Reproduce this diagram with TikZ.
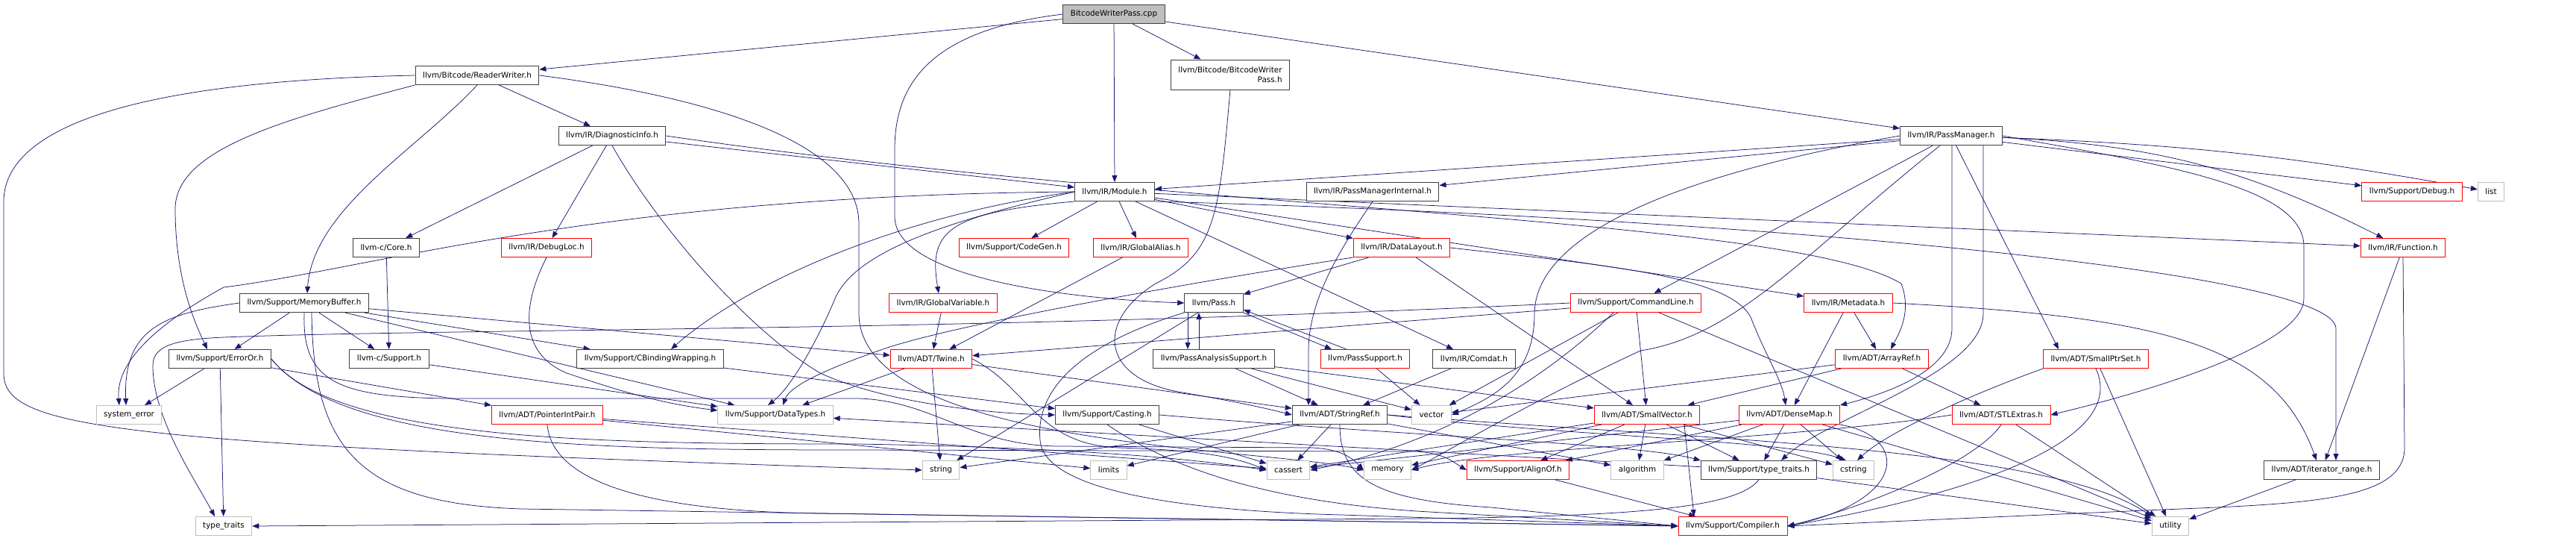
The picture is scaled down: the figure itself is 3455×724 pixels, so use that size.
\documentclass[tikz,border=0pt]{standalone}
\usepackage{fontspec}
\setmainfont{DejaVu Sans}
\usetikzlibrary{arrows.meta,backgrounds}

\definecolor{inclblue}{HTML}{191970}
\definecolor{sysgray}{HTML}{BFBFBF}

\tikzstyle{hdr} = [draw=black!75, line width=1pt, fill=white, minimum height=25pt, inner xsep=10pt, inner ysep=2pt, font=\fontsize{10.4}{13}\selectfont]
\tikzstyle{hdrcut} = [hdr, draw=red]
\tikzstyle{syshdr} = [hdr, draw=sysgray]
\tikzstyle{srcfile} = [hdr, fill=sysgray]
\tikzstyle{incl} = [draw=inclblue, line width=0.75pt, -{Triangle[length=9pt,width=7pt]}]

\begin{document}
\begin{tikzpicture}[x=1pt, y=-1pt]
\useasboundingbox (0,0) rectangle (3455,724);

% rows of the include graph
\node[srcfile] (cpp) at (1494,19) {BitcodeWriterPass.cpp};
\node[hdr] (rw) at (640,101) {llvm/Bitcode/ReaderWriter.h};
\node[hdr, align=right, minimum height=40pt] (bwp) at (1650,100) {llvm/Bitcode/BitcodeWriter\\Pass.h};
\node[hdr] (diag) at (821,182) {llvm/IR/DiagnosticInfo.h};
\node[hdr] (pm) at (2617,182) {llvm/IR/PassManager.h};
\node[hdr] (module) at (1495,257) {llvm/IR/Module.h};
\node[hdr] (pmi) at (1841,257) {llvm/IR/PassManagerInternal.h};
\node[hdrcut] (debug) at (3235,257) {llvm/Support/Debug.h};
\node[syshdr] (list) at (3341,257) {list};
\node[hdr] (core) at (518,332) {llvm-c/Core.h};
\node[hdrcut] (debugloc) at (733,332) {llvm/IR/DebugLoc.h};
\node[hdrcut] (codegen) at (1360,332) {llvm/Support/CodeGen.h};
\node[hdrcut] (galias) at (1530,332) {llvm/IR/GlobalAlias.h};
\node[hdrcut] (dl) at (1880,332) {llvm/IR/DataLayout.h};
\node[hdrcut] (func) at (3223,332) {llvm/IR/Function.h};
\node[hdr] (membuf) at (408,406) {llvm/Support/MemoryBuffer.h};
\node[hdrcut] (gvar) at (1265,406) {llvm/IR/GlobalVariable.h};
\node[hdr] (pass) at (1628,406) {llvm/Pass.h};
\node[hdrcut] (cl) at (2194,406) {llvm/Support/CommandLine.h};
\node[hdrcut] (meta) at (2479,406) {llvm/IR/Metadata.h};
\node[hdr] (erroror) at (295,481) {llvm/Support/ErrorOr.h};
\node[hdr] (csupport) at (522,481) {llvm-c/Support.h};
\node[hdr] (cbind) at (872,481) {llvm/Support/CBindingWrapping.h};
\node[hdrcut] (twine) at (1249,481) {llvm/ADT/Twine.h};
\node[hdr] (pas) at (1628,481) {llvm/PassAnalysisSupport.h};
\node[hdrcut] (passsup) at (1831,481) {llvm/PassSupport.h};
\node[hdr] (comdat) at (1977,481) {llvm/IR/Comdat.h};
\node[hdrcut] (arrayref) at (2524,481) {llvm/ADT/ArrayRef.h};
\node[hdrcut] (smallptr) at (2811,481) {llvm/ADT/SmallPtrSet.h};
\node[syshdr] (syserr) at (173,556) {system\_error};
\node[hdrcut] (pip) at (734,556) {llvm/ADT/PointerIntPair.h};
\node[syshdr] (datatypes) at (1040,556) {llvm/Support/DataTypes.h};
\node[hdr] (casting) at (1485,556) {llvm/Support/Casting.h};
\node[hdr] (stringref) at (1797,556) {llvm/ADT/StringRef.h};
\node[syshdr] (vector) at (1920,556) {vector};
\node[hdrcut] (smallvec) at (2209,556) {llvm/ADT/SmallVector.h};
\node[hdrcut] (densemap) at (2400,556) {llvm/ADT/DenseMap.h};
\node[hdrcut] (stlext) at (2684,556) {llvm/ADT/STLExtras.h};
\node[syshdr] (string) at (1262,630) {string};
\node[syshdr] (limits) at (1487,630) {limits};
\node[syshdr] (cassert) at (1728,630) {cassert};
\node[syshdr] (memory) at (1861,630) {memory};
\node[hdrcut] (alignof) at (2036,630) {llvm/Support/AlignOf.h};
\node[syshdr] (algorithm) at (2196,630) {algorithm};
\node[hdr] (tt) at (2359,630) {llvm/Support/type\_traits.h};
\node[syshdr] (cstring) at (2486,630) {cstring};
\node[hdr] (iterrange) at (3114,630) {llvm/ADT/iterator\_range.h};
\node[syshdr] (stdtt) at (300,705) {type\_traits};
\node[hdrcut] (compiler) at (2324,705) {llvm/Support/Compiler.h};
\node[syshdr] (utility) at (2911,705) {utility};

\begin{scope}[on background layer, every edge/.style=incl]
\fill[white] (0,0) rectangle (3455,724);
\path (cpp) edge (rw) edge (bwp) edge (module) edge (pm);
\path (rw) edge (diag);
\path (diag) edge (core) edge (debugloc) edge (module);
\path (pm) edge (module) edge (pmi) edge (debug) edge[bend left=4] (list) edge[bend left=12] (func)
  edge (cl) edge ([xshift=-50pt]smallptr.north);
\path (module) edge (codegen) edge (galias) edge (dl) edge (comdat) edge (func) edge (meta);
\path (core) edge (csupport);
\path (csupport) edge (datatypes);
\path (membuf) edge (erroror) edge (csupport) edge (twine) edge (cbind) edge (datatypes);
\path (galias) edge (twine);
\path (gvar) edge (twine);
\path (dl) edge (pass) edge (smallvec);
\path (pass) edge (string);
\path (pas) edge (vector) edge (stringref) edge (smallvec);
\path (passsup) edge (vector);
\path (cl) edge (twine) edge (smallvec) edge (vector) edge (utility);
\path (meta) edge (arrayref) edge (densemap);
\path (func) edge (iterrange);
\path (arrayref) edge (smallvec) edge (vector) edge (stlext);
\path (smallptr) edge (utility);
\path (erroror) edge (syserr) edge (stdtt) edge (pip);
\path (cbind) edge (casting);
\path (twine) edge (stringref) edge (datatypes) edge (string);
\path (pip) edge (cassert) edge (limits);
\path (comdat) edge (stringref);
\path (casting) edge (cassert);
\path (stringref) edge (cassert) edge (string) edge (algorithm) edge (limits);
\path (smallvec) edge (alignof) edge (tt) edge (algorithm) edge (cassert) edge (cstring) edge (memory);
\path (densemap) edge (alignof) edge (tt) edge (algorithm) edge (cassert) edge (cstring) edge (utility);
\path (stlext) edge (utility);
\path (alignof) edge (compiler);
\path (tt) edge (datatypes) edge (utility);
\path (iterrange) edge (utility);

% includes routed round other boxes
\draw[incl] (cpp.west) .. controls (1250,40) and (1200,110) .. (1200,200) -- (1200,290)
  .. controls (1200,370) and (1420,400) .. (pass.west);
\draw[incl] (rw.south) .. controls (560,200) and (420,280) .. ([xshift=4pt]membuf.north);
\draw[incl] (rw.west) .. controls (120,110) and (5,190) .. (5,270) -- (5,500)
  .. controls (5,575) and (150,595) .. (string.west);
\draw[incl] (rw.south west) .. controls (380,160) and (235,200) .. (235,280)
  .. controls (235,380) and (265,440) .. ([xshift=-17pt]erroror.north);
\draw[incl] (rw.east) .. controls (950,130) and (1152,190) .. (1152,300) -- (1152,420)
  .. controls (1152,600) and (1700,600) .. (memory.west);
\draw[incl] (bwp.south) .. controls (1635,290) and (1630,340) .. (1550,380)
  .. controls (1470,430) and (1475,505) .. (1580,525) .. controls (1640,535) and (1690,545) .. (stringref.west);
\draw[incl] (diag.east) .. controls (1600,285) and (2400,290) .. (2550,380)
  .. controls (2565,420) and (2545,450) .. ([xshift=12pt]arrayref.north);
\draw[incl] (diag.south) .. controls (880,300) and (1000,440) .. (1100,500)
  .. controls (1200,545) and (1350,555) .. (casting.west);
\draw[incl] (debugloc.south) .. controls (705,400) and (690,470) .. (760,500)
  .. controls (820,520) and (880,540) .. ([yshift=6pt]datatypes.west);
\draw[incl] (pm.east) .. controls (2900,220) and (3090,250) .. (3090,330) -- (3090,400)
  .. controls (3090,460) and (2900,520) .. (stlext.east);
\draw[incl] ([xshift=1pt]pm.south) -- (2618,440) .. controls (2618,500) and (2520,530) .. (densemap.north east);
\draw[incl] ([xshift=43pt]pm.south) -- (2660,420) .. controls (2660,500) and (2450,560) .. ([xshift=30pt]tt.north);
\draw[incl] (pm.west) .. controls (2300,225) and (2060,300) .. (2058,420)
  .. controls (2058,500) and (2010,530) .. (vector.east);
\draw[incl] ([xshift=-15pt]pm.south) .. controls (2420,340) and (2330,450) .. (2200,470)
  .. controls (2050,540) and (1950,600) .. (memory.east);
\draw[incl] (module.south west) .. controls (1270,285) and (1245,310) .. ([xshift=-6pt]gvar.north);
\draw[incl] (module.west) .. controls (1300,290) and (1150,330) .. (1120,400)
  .. controls (1095,460) and (1060,520) .. ([xshift=-10pt]datatypes.north);
\draw[incl] (module.west) .. controls (1200,290) and (1000,380) .. ([xshift=28pt]cbind.north);
\draw[incl] (module.west) .. controls (800,262) and (500,360) .. (300,385)
  .. controls (200,440) and (155,490) .. ([xshift=-13pt]syserr.north);
\draw[incl] (module.south east) .. controls (2300,290) and (3130,360) .. (3133,440) -- ([xshift=19pt]iterrange.north);
\draw[incl] (pmi.south) .. controls (1800,330) and (1755,400) .. (1755,470) -- ([xshift=-42pt]stringref.north);
\draw[incl] (meta.east) .. controls (2900,425) and (3050,460) .. ([xshift=-7pt]iterrange.north);
\draw[incl] (func.south) -- (3225,600) .. controls (3225,670) and (3100,675) .. (2900,683) -- (compiler.east);
\draw[incl] (membuf.west) .. controls (220,420) and (165,440) .. ([xshift=-4pt]syserr.north);
\draw[incl] (membuf.south) .. controls (405,510) and (450,532) .. (600,534) -- (1150,534)
  .. controls (1250,536) and (1300,597) .. (1420,598) -- (1760,600) .. controls (1800,602) and (1815,615) .. (memory.west);
\draw[incl] ([xshift=10pt]membuf.south) .. controls (420,600) and (480,675) .. (700,682) -- (compiler.west);
\draw[incl] (dl.south west) .. controls (1650,370) and (1300,430) .. (1190,466)
  .. controls (1120,490) and (1060,515) .. ([xshift=10pt]datatypes.north);
\draw[incl] (dl.east) .. controls (2150,355) and (2330,370) .. (2350,430)
  .. controls (2370,480) and (2390,510) .. ([xshift=-5pt]densemap.north);
\draw[incl] (pass.south west) .. controls (1420,470) and (1390,540) .. (1395,590)
  .. controls (1400,660) and (1600,685) .. (1800,690) -- (compiler.west);
\draw[incl] (cl.west) .. controls (1300,445) and (600,440) .. (300,452)
  .. controls (230,455) and (205,465) .. (205,490) .. controls (205,560) and (260,640) .. ([xshift=-12pt]stdtt.north);
\draw[incl] ([xshift=-30pt]cl.south) .. controls (2080,500) and (1950,590) .. (cassert.east);
\draw[incl] (smallptr.south) .. controls (2860,600) and (2600,670) .. (compiler.east);
\draw[incl] (smallptr.south west) .. controls (2640,530) and (2530,580) .. ([xshift=5pt]cstring.north);
\draw[incl] (erroror.east) .. controls (450,590) and (800,595) .. (1150,595)
  .. controls (1450,600) and (1600,615) .. (cassert.west);
\draw[incl] (erroror.east) .. controls (460,598) and (800,603) .. (1150,603) -- (1900,605)
  .. controls (1940,608) and (1950,620) .. (alignof.west);
\draw[incl] (twine.east) .. controls (1380,520) and (1390,595) .. (1500,600)
  .. controls (1600,603) and (1650,610) .. (cassert.west);
\draw[incl] (pip.south) .. controls (740,640) and (850,685) .. (1100,688) -- (compiler.west);
\draw[incl] (casting.east) .. controls (1900,585) and (2200,595) .. (tt.north west);
\draw[incl] (casting.south) .. controls (1560,620) and (1680,670) .. (1900,685) -- (compiler.west);
\draw[incl] (stringref.east) .. controls (2100,585) and (2400,590) .. ([xshift=-10pt]cstring.north);
\draw[incl] (stringref.south) .. controls (1797,640) and (1840,670) .. (2000,680) -- (compiler.west);
\draw[incl] (stringref.east) .. controls (2300,590) and (2750,600) .. (utility.north west);
\draw[incl] ([xshift=50pt]smallvec.south) -- ([xshift=-52pt]compiler.north);
\draw[incl] (densemap.south east) .. controls (2560,585) and (2560,670) .. (compiler.east);
\draw[incl] (stlext.south) .. controls (2650,620) and (2500,680) .. (compiler.east);
\draw[incl] (stlext.west) .. controls (2400,590) and (2000,600) .. (memory.east);
\draw[incl] (tt.south) .. controls (2330,680) and (2200,692) .. (1900,695) -- (stdtt.east);
\draw[incl] ([xshift=-35pt]pass.south) -- ([xshift=-35pt]pas.north);
\draw[incl] ([xshift=-20pt]pas.north) -- ([xshift=-20pt]pass.south);
\draw[incl] (pass.south east) -- ([xshift=-45pt]passsup.north);
\draw[incl] ([xshift=-25pt]passsup.north) -- ([yshift=4pt]pass.south east);
\end{scope}
\end{tikzpicture}
\end{document}
